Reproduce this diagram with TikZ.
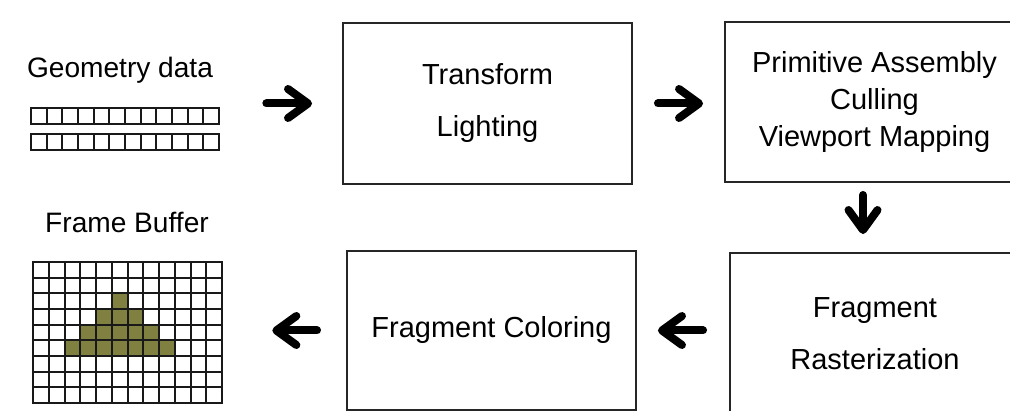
\documentclass[tikz,border=0pt]{standalone}
\usepackage{fontspec}
\setmainfont{Liberation Sans}
\usetikzlibrary{arrows.meta,positioning,fit}

\definecolor{olive}{RGB}{128,128,64}

\begin{document}
\begin{tikzpicture}
	[x=0.02cm, y=-0.02cm,
	stage/.style={draw=black!85, line width=0.04cm, align=center, inner sep=0pt},
	wide/.style={font=\fontsize{16.5pt}{29.6pt}\selectfont},
	tight/.style={font=\fontsize{16.5pt}{21pt}\selectfont},
	lbl/.style={font=\fontsize{16pt}{19pt}\selectfont, anchor=base},
	cell/.style={draw=black!90, line width=0.04cm},
	flow/.style={line width=0.16cm, line cap=round, -{Straight Barb[round, length=0.4cm, width=0.58cm]}}]
	\useasboundingbox (0,0) rectangle (1010,411);
	\clip (0,0) rectangle (1010,411);
	\fill[white] (0,0) rectangle (1010,411);
	% geometry data
	\foreach \r in {108,134}
		\foreach \i in {0,...,11}
			\draw[cell] (31+\i*15.67,\r) rectangle ++(15.67,16.5);
	\node[fit={(31,108) (219,150.5)}, inner sep=0pt] (geo) {};
	\node[lbl] (geolbl) at (120,78) {Geometry data};
	% frame buffer
	\foreach \i/\j in {5/2, 4/3,5/3,6/3, 3/4,4/4,5/4,6/4,7/4, 2/5,3/5,4/5,5/5,6/5,7/5,8/5}
		\fill[olive] (33+\i*15.75,262+\j*15.67) rectangle ++(15.75,15.67);
	\foreach \i in {0,...,11}
		\foreach \j in {0,...,8}
			\draw[cell] (33+\i*15.75,262+\j*15.67) rectangle ++(15.75,15.67);
	\node[fit={(33,262) (222,403)}, inner sep=0pt] (fb) {};
	\node[lbl] (fblbl) at (127,233) {Frame Buffer};
	% stages
	\node[stage, wide, minimum width=5.78cm, minimum height=3.22cm] (tl) at (487.5,103.5) {Transform\\Lighting};
	\node[stage, tight, minimum width=5.98cm, minimum height=3.2cm] (pr) at (874.5,102) {Primitive Assembly\\Culling\\Viewport Mapping};
	\node[stage, wide, minimum width=5.8cm, minimum height=3.24cm] (ra) at (875,334) {Fragment\\Rasterization};
	\node[stage, wide, minimum width=5.78cm, minimum height=3.18cm] (co) at (491.5,330.5) {Fragment Coloring};
	% arrows
	\draw[flow, shorten <=0.94cm, shorten >=0.6cm] (geo.east |- tl.west) -- (tl.west);
	\draw[flow, shorten <=0.5cm, shorten >=0.42cm] (tl.east) -- (tl.east -| pr.west);
	\draw[flow, shorten <=0.24cm, shorten >=0.36cm] ([xshift=-0.23cm]pr.south) -- ([xshift=-0.23cm]pr.south |- ra.north);
	\draw[flow, shorten <=0.52cm, shorten >=0.42cm] (co.east -| ra.west) -- (co.east);
	\draw[flow, shorten <=0.58cm, shorten >=1cm] (co.west) -- (co.west -| fb.east);
\end{tikzpicture}
\end{document}
